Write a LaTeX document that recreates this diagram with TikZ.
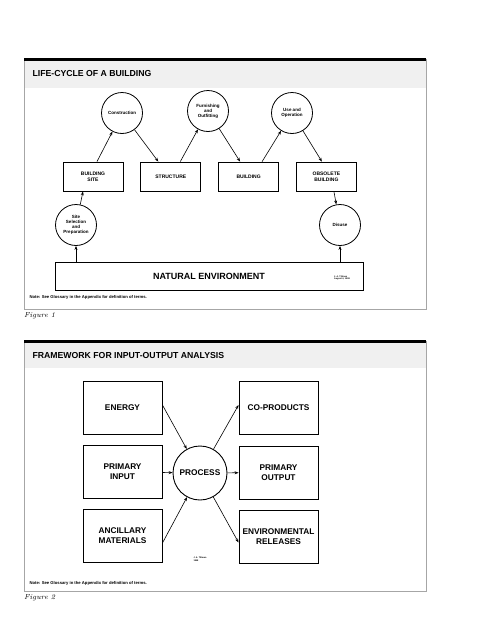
\documentclass[tikz,border=0pt]{standalone}
\usepackage{fontspec}
\newfontfamily\diagfont{Liberation Sans}
\usetikzlibrary{arrows.meta,positioning,calc}

\begin{document}
\begin{tikzpicture}[x=1pt,y=1pt,
    box/.style={draw,line width=0.8pt,align=center,inner sep=1pt,
      font=\diagfont\bfseries\fontsize{5}{5.6}\selectfont},
    bigbox/.style={draw,line width=0.9pt,align=center,inner sep=1pt,
      minimum width=79pt,minimum height=53pt,
      font=\diagfont\bfseries\fontsize{8.3}{10}\selectfont},
    stage/.style={draw,circle,line width=0.8pt,minimum size=41pt,inner sep=0pt,
      align=center,font=\diagfont\bfseries\fontsize{4.5}{5}\selectfont},
    flow/.style={-{Stealth[length=4pt,width=3pt]},line width=0.6pt},
    panel/.style={draw=gray!70,line width=0.8pt},
    header/.style={fill=gray!12},
    title/.style={anchor=west,font=\diagfont\bfseries\fontsize{8.7}{10}\selectfont},
    note/.style={anchor=west,font=\diagfont\bfseries\fontsize{4.2}{5}\selectfont},
    figlabel/.style={anchor=north west,inner sep=0pt,font=\itshape\fontsize{7.2}{8}\selectfont},
    tiny/.style={align=left,inner sep=0pt,font=\diagfont\bfseries\fontsize{2.2}{2.6}\selectfont}]
  \useasboundingbox (0,0) rectangle (495,-640);

  % Figure 1 panel
  \fill[header] (24,-59) rectangle (426,-88);
  \draw[panel] (24,-59) -- (24,-309) -- (426,-309) -- (426,-59);
  \draw[line width=3pt] (24,-59) -- (426,-59);
  \node[title] (t1) at (29,-74) {LIFE-CYCLE OF A BUILDING};

  % boxes of the life-cycle
  \node[box,minimum width=60pt,minimum height=29pt] (bsite) at (93,-176.5) {BUILDING\\SITE};
  \node[box,minimum width=60pt,minimum height=29pt,right=17pt of bsite] (struct) {STRUCTURE};
  \node[box,minimum width=60pt,minimum height=29pt,right=17pt of struct] (bldg) {BUILDING};
  \node[box,minimum width=60pt,minimum height=29pt,right=17pt of bldg] (obs) {OBSOLETE\\BUILDING};
  \node[stage] (constr) at (122,-113) {Construction};
  \node[stage] (furn) at (208,-111) {Furnishing\\and\\Outfitting};
  \node[stage] (useop) at (292,-113) {Use and\\Operation};
  \node[stage] (sitesel) at (76,-225) {Site\\Selection\\and\\Preparation};
  \node[stage] (disuse) at (340,-225) {Disuse};
  \node[draw,line width=0.9pt,minimum width=308pt,minimum height=28pt,
    font=\diagfont\bfseries\fontsize{9}{10}\selectfont] (natenv) at (209,-276) {NATURAL ENVIRONMENT};
  \node[tiny] (auth1) at (342,-278) {J. A. Tillman\\August 4, 1998};

  \draw[flow] ([xshift=4pt]bsite.north) -- (constr);
  \draw[flow] (constr) -- ([xshift=-12.5pt]struct.north);
  \draw[flow] ([xshift=9.5pt]struct.north) -- (furn);
  \draw[flow] (furn) -- ([xshift=-8.5pt]bldg.north);
  \draw[flow] ([xshift=13.5pt]bldg.north) -- (useop);
  \draw[flow] (useop) -- ([xshift=-4.5pt]obs.north);
  \draw[flow] ([xshift=7.5pt]obs.south) -- (disuse);
  \draw[flow] (sitesel) -- ([xshift=-10pt]bsite.south);
  \draw[flow] (sitesel.south |- natenv.north) -- (sitesel.south);
  \draw[flow] (disuse.south |- natenv.north) -- (disuse.south);

  \node[note] (note1) at (26,-297) {Note: See Glossary in the Appendix for definition of terms.};
  \node[figlabel] (fig1) at (24,-312) {Figure 1};

  % Figure 2 panel
  \fill[header] (24,-341) rectangle (426,-368);
  \draw[panel] (24,-341) -- (24,-591) -- (426,-591) -- (426,-341);
  \draw[line width=3pt] (24,-341) -- (426,-341);
  \node[title] (t2) at (29,-356) {FRAMEWORK FOR INPUT-OUTPUT ANALYSIS};

  \node[bigbox] (energy) at (122.5,-408) {ENERGY};
  \node[bigbox] (coprod) at (278.5,-408) {CO-PRODUCTS};
  \node[bigbox] (pinput) at (122.5,-472) {PRIMARY\\INPUT};
  \node[bigbox] (poutput) at (278.5,-472.5) {PRIMARY\\OUTPUT};
  \node[bigbox] (ancil) at (122.5,-536) {ANCILLARY\\MATERIALS};
  \node[bigbox] (envrel) at (278.5,-536.5) {ENVIRONMENTAL\\RELEASES};
  \node[draw,circle,line width=0.9pt,minimum size=54pt,inner sep=0pt,
    font=\diagfont\bfseries\fontsize{8.3}{10}\selectfont] (process) at (200,-473) {PROCESS};
  \node[tiny] (auth2) at (200,-559) {J. A. Tillman\\1998};

  \draw[flow] ([yshift=3pt]energy.east) -- (process);
  \draw[flow] (process) -- ([yshift=3pt]coprod.west);
  \draw[flow] (pinput) -- (process);
  \draw[flow] (process) -- (poutput);
  \draw[flow] ([yshift=-7pt]ancil.east) -- (process);
  \draw[flow] (process) -- ([yshift=-6pt]envrel.west);

  \node[note] (note2) at (26,-583) {Note: See Glossary in the Appendix for definition of terms.};
  \node[figlabel] (fig2) at (24,-594) {Figure 2};
\end{tikzpicture}
\end{document}
